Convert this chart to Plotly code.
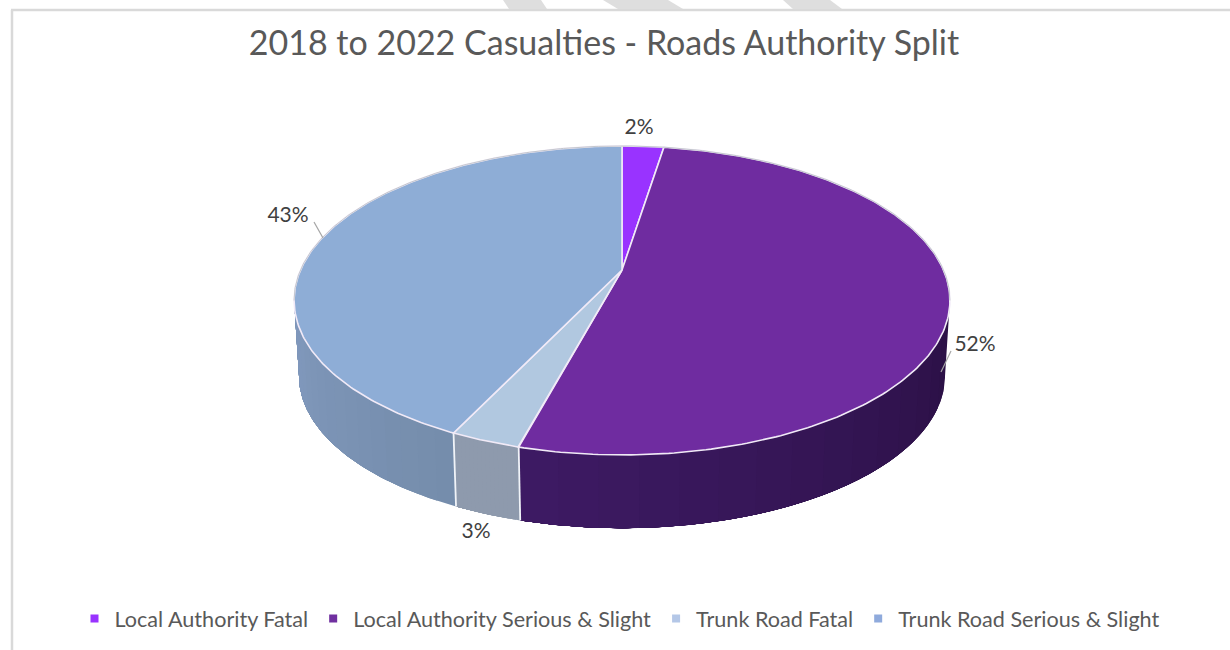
import numpy as np
import plotly.graph_objects as go

# ---- data ----
categories = ["Local Authority Fatal", "Local Authority Serious & Slight",
              "Trunk Road Fatal", "Trunk Road Serious & Slight"]
values = [2.49, 51.7, 2.9, 42.91]
title_text = "2018 to 2022 Casualties - Roads Authority Split"

# ---- style ----
top_colors = ["#9933FF", "#6F2CA0", "#B1C8E0", "#8EADD6"]
# wall shade at the start and end of each slice's visible arc
wall_shades = [("#5A1F99", "#5A1F99"), ("#2B1045", "#3D1A63"),
               ("#8E9AAD", "#8E9AAD"), ("#758DAC", "#8199BD")]
legend_colors = ["#9933FF", "#7030A0", "#B4C7E7", "#8FAADC"]
TEXT = "#595959"
LABEL = "#404040"
FONT = "Lato"

# ---- pie projection (perspective view of a flat disc) ----
CX, CY = 622.0, 270.0
A, B, K = 321.5, 148.5, 0.197
WALL_SCALE, WALL_DROP = 0.985, 76.0
FRONT_R = np.arccos(-K)
FRONT_L = 2 * np.pi - FRONT_R
STRIPS = 16


def rim(theta):
    w = 1 + K * np.cos(theta)
    return CX + A * np.sin(theta) / w, CY - B * np.cos(theta) / w


def low(theta):
    x, y = rim(theta)
    return CX + (x - CX) * WALL_SCALE, CY + (y - CY) * WALL_SCALE + WALL_DROP


def mix(c1, c2, f):
    a = [int(c1[j:j + 2], 16) for j in (1, 3, 5)]
    b = [int(c2[j:j + 2], 16) for j in (1, 3, 5)]
    return "#" + "".join(f"{round(p + (q - p) * f):02X}" for p, q in zip(a, b))


total = sum(values)
edges = 2 * np.pi * np.concatenate([[0], np.cumsum(values)]) / total
fig = go.Figure()

# side walls: only the front arc of each slice is visible.
# Each band runs to the end of the arc and the next one paints over it, so no seams show.
for i in range(len(values)):
    s, e = max(edges[i], FRONT_R), min(edges[i + 1], FRONT_L)
    if e <= s:
        continue
    bounds = np.linspace(s, e, STRIPS + 1)
    for n in range(STRIPS):
        col = mix(wall_shades[i][0], wall_shades[i][1], n / (STRIPS - 1))
        t = np.linspace(bounds[n], e, 120)
        x1, y1 = rim(t)
        x2, y2 = low(t[::-1])
        fig.add_trace(go.Scatter(x=np.r_[x1, x2], y=np.r_[y1, y2], mode="lines",
                                 fill="toself", fillcolor=col,
                                 line=dict(width=0, color=col),
                                 hoverinfo="skip", showlegend=False))

# white dividers on the wall
for e in edges[1:-1]:
    if FRONT_R < e < FRONT_L:
        x1, y1 = rim(e)
        x2, y2 = low(e)
        fig.add_trace(go.Scatter(x=[x1, x2], y=[y1, y2], mode="lines",
                                 line=dict(color="#F0F3F8", width=1.8),
                                 hoverinfo="skip", showlegend=False))

# top surface
for i in range(len(values)):
    t = np.linspace(edges[i], edges[i + 1], 240)
    x, y = rim(t)
    fig.add_trace(go.Scatter(x=np.r_[CX, x, CX], y=np.r_[CY, y, CY], mode="lines",
                             fill="toself", fillcolor=top_colors[i],
                             line=dict(color="#F1EAF7", width=1.6),
                             name=categories[i], hoverinfo="skip", showlegend=False))

# thin grey edge along the back of the disc
t = np.linspace(FRONT_L - 2 * np.pi, FRONT_R, 300)
x, y = rim(t)
fig.add_trace(go.Scatter(x=x, y=y, mode="lines", line=dict(color="#C4C8CE", width=1),
                         hoverinfo="skip", showlegend=False))

# data labels
label_x = [639, 975, 476, 288]
label_y = [129, 346, 533, 217]
fig.add_trace(go.Scatter(x=label_x, y=label_y, mode="text",
                         text=[f"{round(v / total * 100)}%" for v in values],
                         textfont=dict(family=FONT, size=21, color=LABEL),
                         textposition="middle center", hoverinfo="skip", showlegend=False))

# leader lines
for (x0, y0, x1, y1) in [(941, 372, 951, 351), (323, 238, 314, 222)]:
    fig.add_trace(go.Scatter(x=[x0, x1], y=[y0, y1], mode="lines",
                             line=dict(color="#A6A6A6", width=1.2),
                             hoverinfo="skip", showlegend=False))

# legend entries
for name, col in zip(categories, legend_colors):
    fig.add_trace(go.Scatter(x=[None], y=[None], mode="markers", name=name,
                             marker=dict(symbol="square", size=8, color=col)))

BORDER = "#D9D9D9"
shapes = [
    dict(type="line", x0=12, x1=12, y0=10, y1=650, line=dict(color=BORDER, width=2.5)),
    dict(type="line", x0=11, x1=1230, y0=10, y1=10, line=dict(color=BORDER, width=2.5)),
]
for (a, b, c, d) in [(503, 541, 547, 509), (603, 668, 683, 618), (783, 830, 842, 793)]:
    shapes.append(dict(type="path", path=f"M{a},0 L{b},0 L{c},9 L{d},9 Z",
                       fillcolor="#DEDEDE", line=dict(width=0)))

fig.update_layout(
    width=1230, height=650, margin=dict(l=0, r=0, t=0, b=0),
    paper_bgcolor="white", plot_bgcolor="white",
    title=dict(text=title_text, x=604 / 1230, xanchor="center", y=1 - 43 / 650, yanchor="middle",
               font=dict(family=FONT, size=34, color=TEXT)),
    xaxis=dict(range=[0, 1230], visible=False, fixedrange=True),
    yaxis=dict(range=[650, 0], visible=False, fixedrange=True),
    shapes=shapes,
    legend=dict(orientation="h", x=620 / 1230, xanchor="center", y=1 - 619 / 650, yanchor="middle",
                font=dict(family=FONT, size=21.6, color=TEXT), itemwidth=30,
                bgcolor="rgba(0,0,0,0)", traceorder="normal"),
)

fig.write_html("out.html", config={"displayModeBar": False},
               post_script="document.body.style.margin='0';")
